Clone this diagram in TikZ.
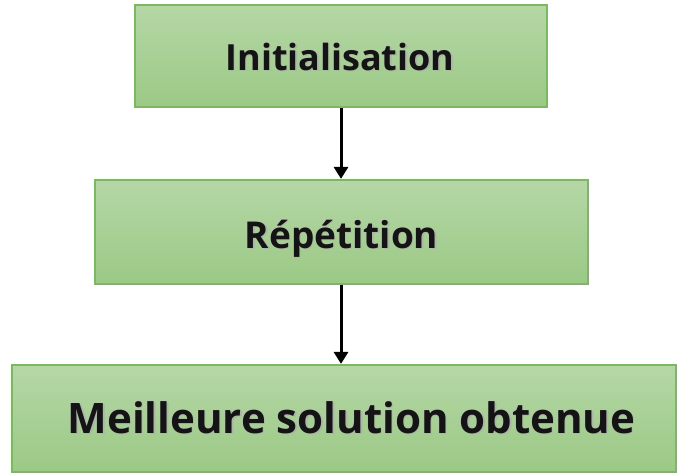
\documentclass[tikz,border=0pt]{standalone}
\usepackage{fontspec}
\setmainfont{Open Sans}
\usetikzlibrary{arrows.meta}
\definecolor{boxtop}{HTML}{B5D7A6}
\definecolor{boxbot}{HTML}{9BC985}
\definecolor{boxedge}{HTML}{7CB862}
% bold text with a soft drop shadow
\newcommand{\shadowtext}[1]{\makebox[0pt][l]{\hspace{1.5pt}\raisebox{-1.5pt}{\textcolor{black!30}{#1}}}#1}
\begin{document}
\begin{tikzpicture}[x=1pt,y=-1pt,
  stepbox/.style={draw=boxedge, line width=2.2pt, top color=boxtop, bottom color=boxbot, inner sep=0pt},
  steptext/.style={anchor=base, inner sep=0pt, text=black!92, font=\bfseries},
  flow/.style={-{Triangle[length=12pt,width=14pt]}, line width=3pt}]
\useasboundingbox (0,0) rectangle (677,474);
% boxes
\node[stepbox, minimum width=412pt, minimum height=102pt] (init) at (341,56) {};
\node[stepbox, minimum width=493pt, minimum height=104pt] (rep) at (341.5,232) {};
\node[stepbox, minimum width=664pt, minimum height=107pt] (best) at (344,418.5) {};
% labels
\node[steptext, font=\bfseries\fontsize{36}{43}\selectfont] (initlabel) at (340,70) {\shadowtext{Initialisation}};
\node[steptext, font=\bfseries\fontsize{37}{44}\selectfont] (replabel) at (341.5,248) {\shadowtext{Répétition}};
\node[steptext, font=\bfseries\fontsize{42}{50}\selectfont] (bestlabel) at (351.5,433) {\shadowtext{Meilleure solution obtenue}};
% connectors
\draw[flow] (init.south -| 341,0) -- (rep.north -| 341,0);
\draw[flow] (rep.south -| 341,0) -- (best.north -| 341,0);
\end{tikzpicture}
\end{document}
